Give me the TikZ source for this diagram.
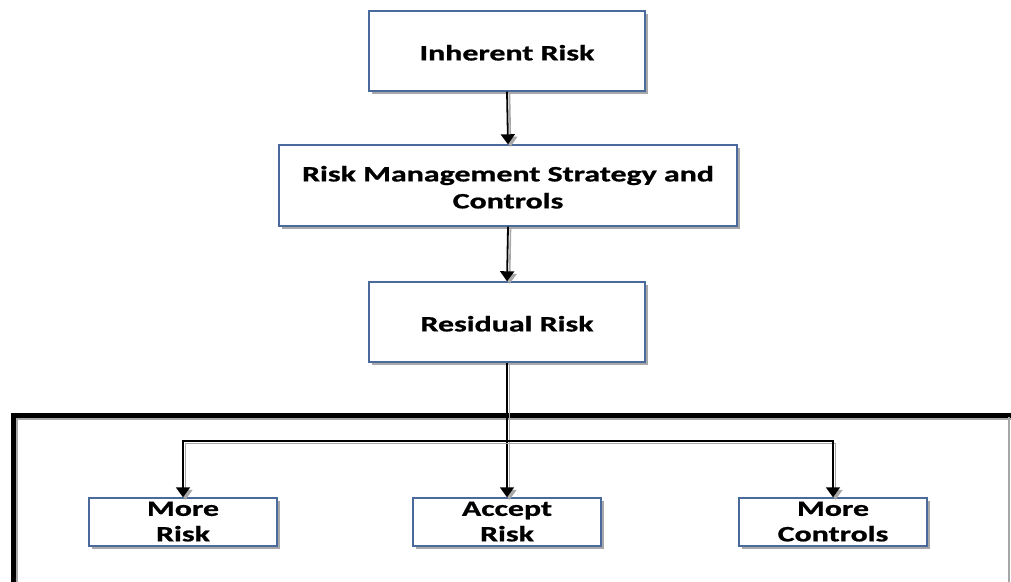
\documentclass[tikz,border=0pt]{standalone}
\usepackage{fontspec}
\usepackage{graphicx}
\setmainfont{Carlito}[BoldFeatures={FakeBold=0.8}]
\usetikzlibrary{arrows.meta,shadows}
\definecolor{boxedge}{HTML}{4A6A9C}
\definecolor{shade}{HTML}{A8A8A8}
% stretched bold labels
\newcommand{\wide}[1]{\scalebox{1.45}[1]{\begin{tabular}{@{}c@{}}#1\end{tabular}}}
\tikzset{
  stepbox/.style={draw=boxedge, line width=1.4pt, fill=white, inner sep=0pt,
    drop shadow={shadow xshift=3pt, shadow yshift=-3pt, fill=shade, opacity=1}},
  boxtext/.style={font=\fontsize{22}{27}\selectfont\bfseries, inner sep=0pt, yshift=-4pt},
  opttext/.style={font=\fontsize{22}{25.5}\selectfont\bfseries, inner sep=0pt, yshift=-1.5pt},
  conn/.style={line width=1.8pt, -{Triangle[width=14pt,length=10pt]},
    preaction={draw=shade, line width=1.6pt, transform canvas={xshift=2.5pt, yshift=-2.5pt}}},
  frameline/.style={line width=5pt, line cap=round,
    preaction={draw=shade, line width=3pt, transform canvas={xshift=3pt, yshift=-3pt}}}
}
\begin{document}
\begin{tikzpicture}[x=1pt, y=-1pt]
  \clip (0,0) rectangle (1011,581);
  \fill[white] (0,0) rectangle (1011,581);

  % enclosing frame of the decision options
  \draw[frameline] (13,600) -- (13,415) -- (1030,415);
  \draw[line width=1.2pt, draw=gray!70] (1009,417) -- (1009,600);

  % main chain
  \node[stepbox, minimum width=276pt, minimum height=80pt,
    label={[boxtext]center:\wide{Inherent Risk}}] (ir) at (507,51) {};
  \node[stepbox, minimum width=458pt, minimum height=81pt,
    label={[boxtext]center:\wide{Risk Management Strategy and\\Controls}}] (rm) at (508,185.5) {};
  \node[stepbox, minimum width=276pt, minimum height=80pt,
    label={[boxtext]center:\wide{Residual Risk}}] (rr) at (507,322) {};

  % options
  \node[stepbox, minimum width=188pt, minimum height=48pt,
    label={[opttext]center:\wide{More\\Risk}}] (mr) at (183,522) {};
  \node[stepbox, minimum width=188pt, minimum height=48pt,
    label={[opttext]center:\wide{Accept\\Risk}}] (ar) at (507,522) {};
  \node[stepbox, minimum width=188pt, minimum height=48pt,
    label={[opttext]center:\wide{More\\Controls}}] (mc) at (833,522) {};

  \coordinate (split) at (507,441);

  \draw[conn] (ir.south) -- (rm.north);
  \draw[conn] (rm.south) -- (rr.north);
  \draw[conn] (rr.south) -- (ar.north);
  \draw[conn] (split) -| (mr.north);
  \draw[conn] (split) -| (mc.north);
\end{tikzpicture}
\end{document}
